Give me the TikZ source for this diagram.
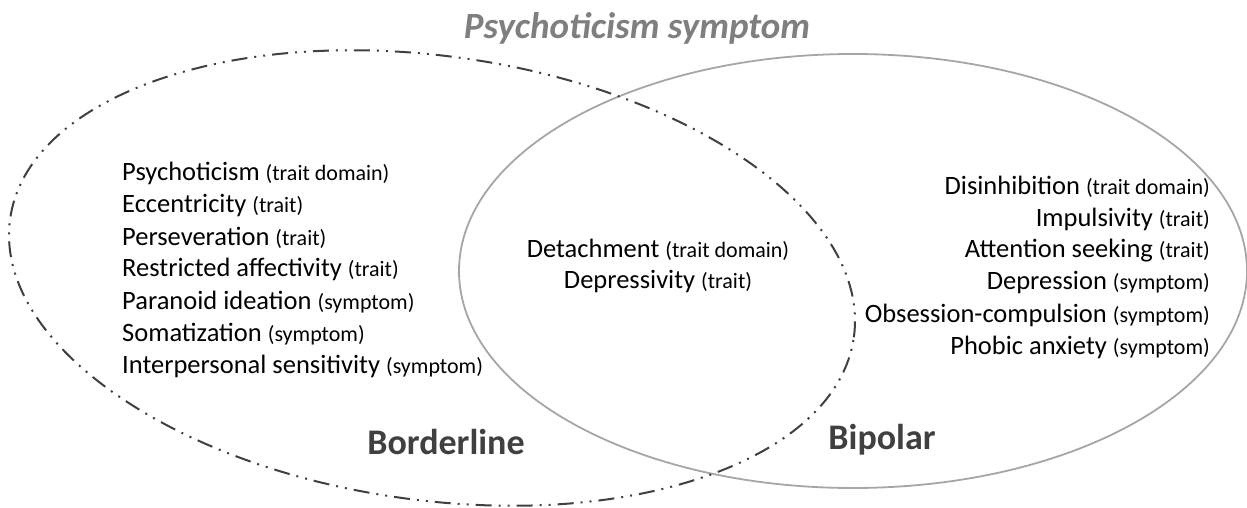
\documentclass[tikz,border=0pt]{standalone}
\usepackage{fontspec}
\setmainfont{Carlito}
\definecolor{titlegray}{HTML}{7F7F7F}
\definecolor{labelgray}{HTML}{404040}
\definecolor{ringgray}{HTML}{A6A6A6}
\newcommand{\kind}[1]{{\fontsize{22}{24}\selectfont(#1)}}

\begin{document}
\begin{tikzpicture}[x=1pt,y=-1pt,
  item/.style={inner sep=0pt,font=\fontsize{26.5}{30}\selectfont},
  group/.style={inner sep=0pt,text=labelgray,font=\fontsize{36}{40}\selectfont\bfseries},
  blring/.style={draw=labelgray,line width=2pt,dash pattern=on 16pt off 7pt on 2pt off 7pt on 2pt off 7pt},
  bpring/.style={draw=ringgray,line width=1.8pt}]

  \useasboundingbox (0,0) rectangle (1247,508);

  % the two sets
  \draw[bpring] (853,271) ellipse [x radius=394pt, y radius=217pt];
  \draw[blring, rotate around={-8:(432,278)}] (432,278) ellipse [x radius=426pt, y radius=222pt];

  \node[inner sep=0pt,text=titlegray,font=\fontsize{37}{40}\selectfont\bfseries\itshape] (title) at (637,28) {Psychoticism symptom};

  % Borderline only
  \foreach \t/\s [count=\i] in {Psychoticism/trait domain, Eccentricity/trait, Perseveration/trait,
      Restricted affectivity/trait, Paranoid ideation/symptom, Somatization/symptom,
      Interpersonal sensitivity/symptom}
    \node[item,anchor=west] (bl\i) at (122,{173+32.3*(\i-1)}) {\t\ \kind{\s}};

  % shared
  \node[item] (both1) at (658,250) {Detachment \kind{trait domain}};
  \node[item] (both2) at (658,282) {Depressivity \kind{trait}};

  % Bipolar only
  \foreach \t/\s [count=\i] in {Disinhibition/trait domain, Impulsivity/trait, Attention seeking/trait,
      Depression/symptom, Obsession-compulsion/symptom, Phobic anxiety/symptom}
    \node[item,anchor=east] (bp\i) at (1210,{187+32*(\i-1)}) {\t\ \kind{\s}};

  \node[group] (borderline) at (446,442) {Borderline};
  \node[group] (bipolar) at (882,440) {Bipolar};
\end{tikzpicture}
\end{document}
